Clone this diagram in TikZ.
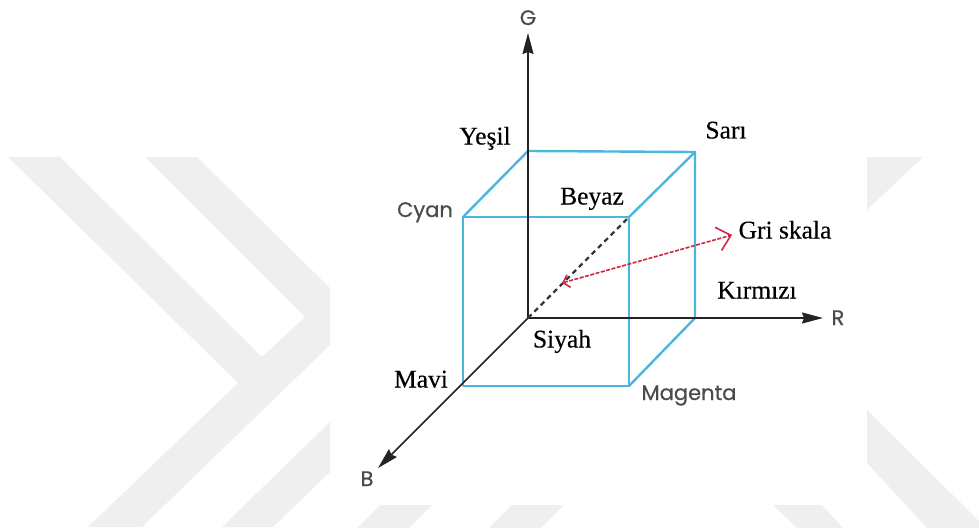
\documentclass[tikz,border=0pt]{standalone}
\usepackage{fontspec}
\setmainfont{Liberation Serif}
\newfontfamily\seriflabfont[FakeBold=0.35]{Liberation Serif}
\newfontfamily\labsans[FakeBold=0.5]{Poppins}
\usetikzlibrary{arrows.meta}
\definecolor{wmgray}{RGB}{239,239,239}
\definecolor{cubeblue}{RGB}{77,182,222}
\definecolor{scalered}{RGB}{204,40,64}
\definecolor{axisblack}{RGB}{35,35,35}
\definecolor{sanstext}{RGB}{75,75,75}
\begin{document}
\begin{tikzpicture}[x=1pt,y=-1pt,
  wm/.style={fill=wmgray,draw=none},
  axisline/.style={draw=axisblack,line width=1.7pt,-{Stealth[length=21pt,width=11pt,inset=2pt]}},
  cubeedge/.style={draw=cubeblue,line width=2.4pt,line join=round,line cap=round},
  diagline/.style={draw=black!78,line width=2.2pt,dash pattern=on 5pt off 4pt},
  scalearrow/.style={draw=scalered,line width=1.6pt,dash pattern=on 4pt off 1.5pt,
    {Straight Barb[length=6pt,width=13pt]}-{Straight Barb[length=13pt,width=24pt]}},
  seriflab/.style={inner sep=0pt,text height=17pt,text depth=6pt,font=\seriflabfont\fontsize{25.5}{28}\selectfont},
  sanslab/.style={inner sep=0pt,text height=15pt,text depth=5pt,text=sanstext,font=\labsans\fontsize{21}{24}\selectfont},
]
\useasboundingbox (0,0) rectangle (979,532);
% watermark
\fill[wm] (8,157) -- (60,157) -- (262,357) -- (305,317) -- (145,157) -- (197,157)
  -- (330,288) -- (330,345) -- (142,527) -- (88,527) -- (238,383) -- cycle;
\fill[wm] (222,527) -- (273,527) -- (330,472) -- (330,422) -- cycle;
\fill[wm] (380,505) -- (432,505) -- (409,528) -- (357,528) -- cycle;
\fill[wm] (512,505) -- (564,505) -- (541,528) -- (489,528) -- cycle;
\fill[wm] (773,505) -- (822,505) -- (843,528) -- (797,528) -- cycle;
\fill[wm] (867,157) -- (923,157) -- (867,210) -- cycle;
\fill[wm] (867,410) -- (979,521) -- (979,528) -- (927,528) -- (867,463) -- cycle;
% cube corners
\coordinate (O)  at (528,318);
\coordinate (Ye) at (528,151);
\coordinate (Cy) at (463,217);
\coordinate (Be) at (629,217);
\coordinate (Sa) at (695,152);
\coordinate (Ki) at (695,318);
\coordinate (Ma) at (629,386);
\coordinate (Mv) at (463,386);
\coordinate (Gt) at (528,33);
\coordinate (Rt) at (823,318);
\coordinate (Bt) at (378,468);
\coordinate (Rs) at (562,283);
\coordinate (Re) at (732,235);
% cube
\draw[cubeedge] (Cy) -- (Be) -- (Ma) -- (Mv) -- cycle;
\draw[cubeedge] (Cy) -- (Ye) -- (Sa) -- (Be);
\draw[cubeedge] (Sa) -- (Ki) -- (Ma);
% axes
\draw[axisline] (O) -- (Gt);
\draw[axisline] (O) -- (Rt);
\draw[axisline] (O) -- (Bt);
% gray scale diagonal
\draw[diagline] (O) -- (Be);
\draw[scalearrow] (Rs) -- (Re);
% labels
\node[sanslab] (lG) at (528,20) {G};
\node[sanslab] (lR) at (838,320) {R};
\node[sanslab] (lB) at (367,481) {B};
\node[sanslab] (lCy) at (425,212) {Cyan};
\node[sanslab] (lMa) at (689,395) {Magenta};
\node[seriflab] (lYe) at (485,139) {Yeşil};
\node[seriflab] (lBe) at (592,199) {Beyaz};
\node[seriflab] (lSa) at (726,133) {Sarı};
\node[seriflab] (lGr) at (785,233) {Gri skala};
\node[seriflab] (lKi) at (757,293) {Kırmızı};
\node[seriflab] (lSi) at (562,342) {Siyah};
\node[seriflab] (lMv) at (421,382) {Mavi};
\end{tikzpicture}
\end{document}
